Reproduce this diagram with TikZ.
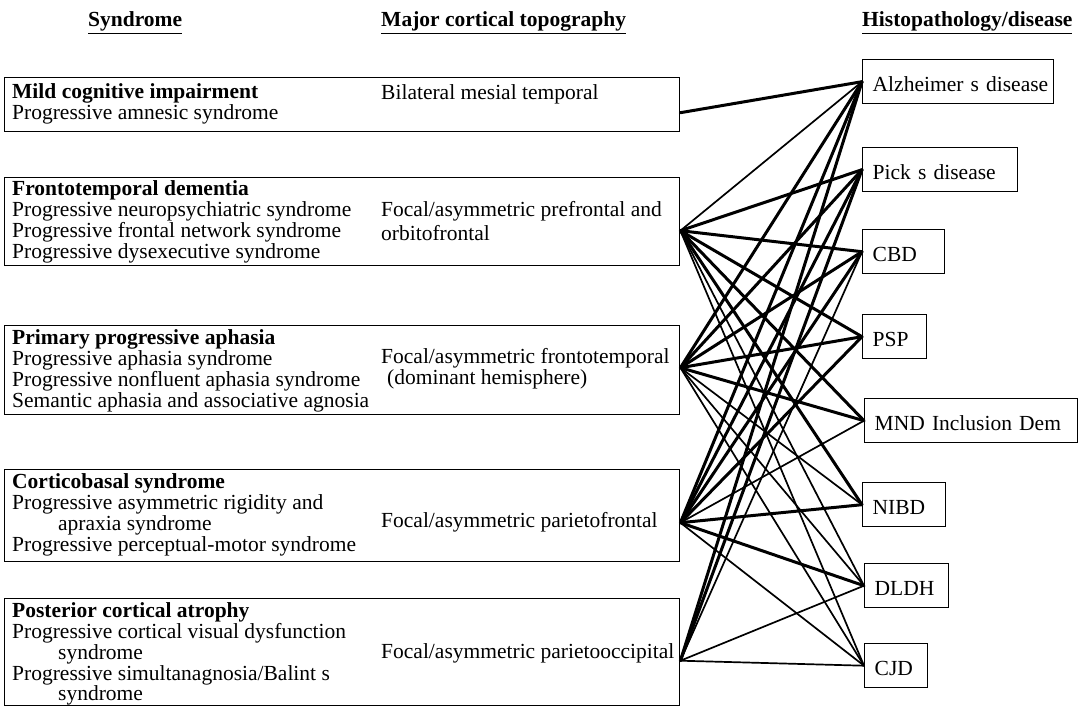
\documentclass[tikz,border=0pt]{standalone}
\usepackage{fontspec}
\setmainfont{Liberation Serif}
\begin{document}
\begin{tikzpicture}[x=1pt,y=-1pt,
  every node/.style={font=\fontsize{21.5}{21}\selectfont},
  txt/.style={anchor=base west, inner sep=0pt},
  lbox/.style={draw, line width=1.4pt, anchor=north west, minimum width=675pt, inner sep=0pt},
  rbox/.style={draw, line width=1.4pt, anchor=north west, minimum height=44pt,
    inner xsep=10pt, inner ysep=0pt, align=left, text height=20pt, text depth=0pt},
  heavy/.style={line width=3pt, line cap=round},
  light/.style={line width=1.7pt, line cap=round}]
\useasboundingbox (0,0) rectangle (1078,706);

% headers
\node[txt] (h1) at (88,27) {\textbf{\underline{Syndrome}}};
\node[txt] (h2) at (381,27) {\textbf{\underline{Major cortical topography}}};
\node[txt] (h3) at (862,27) {\textbf{\underline{Histopathology/disease}}};

% left boxes
\node[lbox, minimum height=54pt] (box1) at (4,77) {};
\node[lbox, minimum height=88pt] (box2) at (4,177) {};
\node[lbox, minimum height=89pt] (box3) at (4,325) {};
\node[lbox, minimum height=92pt] (box4) at (4,469) {};
\node[lbox, minimum height=107pt] (box5) at (4,598) {};

% box 1 text
\node[txt] (a1) at (12,99) {\textbf{Mild cognitive impairment}};
\node[txt] (a2) at (12,120) {Progressive amnesic syndrome};
\node[txt] (am) at (381,100) {Bilateral mesial temporal};

% box 2 text
\node[txt] (b1) at (12,195) {\textbf{Frontotemporal dementia}};
\node[txt] (b2) at (12,216) {Progressive neuropsychiatric syndrome};
\node[txt] (b3) at (12,237) {Progressive frontal network syndrome};
\node[txt] (b4) at (12,258) {Progressive dysexecutive syndrome};
\node[txt] (bm1) at (381,216) {Focal/asymmetric prefrontal and};
\node[txt] (bm2) at (381,240) {orbitofrontal};

% box 3 text
\node[txt] (c1) at (12,344) {\textbf{Primary progressive aphasia}};
\node[txt] (c2) at (12,365) {Progressive aphasia syndrome};
\node[txt] (c3) at (12,386) {Progressive nonfluent aphasia syndrome};
\node[txt] (c4) at (12,407) {Semantic aphasia and associative agnosia};
\node[txt] (cm1) at (381,363) {Focal/asymmetric frontotemporal};
\node[txt] (cm2) at (387,384) {(dominant hemisphere)};

% box 4 text
\node[txt] (d1) at (12,488) {\textbf{Corticobasal syndrome}};
\node[txt] (d2) at (12,509) {Progressive asymmetric rigidity and};
\node[txt] (d3) at (58,530) {apraxia syndrome};
\node[txt] (d4) at (12,551) {Progressive perceptual-motor syndrome};
\node[txt] (dm) at (381,527) {Focal/asymmetric parietofrontal};

% box 5 text
\node[txt] (e1) at (12,617) {\textbf{Posterior cortical atrophy}};
\node[txt] (e2) at (12,638) {Progressive cortical visual dysfunction};
\node[txt] (e3) at (58,659) {syndrome};
\node[txt] (e4) at (12,680) {Progressive simultanagnosia/Balint s};
\node[txt] (e5) at (58,700) {syndrome};
\node[txt] (em) at (381,658) {Focal/asymmetric parietooccipital};

% right boxes
\node[rbox, text width=171pt] (ad) at (862,59) {\mbox{Alzheimer s disease}};
\node[rbox, text width=135pt] (pick) at (862,147) {\mbox{Pick s disease}};
\node[rbox, text width=62pt] (cbd) at (862,229) {CBD};
\node[rbox, text width=44pt] (psp) at (862,314) {PSP};
\node[rbox, text width=193pt] (mnd) at (864,398) {\mbox{MND Inclusion Dem}};
\node[rbox, text width=63pt] (nibd) at (862,482) {NIBD};
\node[rbox, text width=64pt] (dldh) at (864,563) {DLDH};
\node[rbox, text width=43pt] (cjd) at (864,643) {CJD};

% source points
\coordinate (s1) at ([yshift=-8pt]box1.east);
\coordinate (s2) at ([yshift=-9pt]box2.east);
\coordinate (s3) at ([yshift=2.5pt]box3.east);
\coordinate (s4) at ([yshift=-7pt]box4.east);
\coordinate (s5) at ([yshift=-8.5pt]box5.east);

% connectors
\foreach \s/\t/\w in {
  s1/ad/heavy,
  s2/ad/light, s2/pick/heavy, s2/cbd/heavy, s2/psp/heavy, s2/mnd/heavy, s2/nibd/heavy, s2/dldh/light, s2/cjd/light,
  s3/ad/heavy, s3/pick/heavy, s3/cbd/heavy, s3/psp/heavy, s3/mnd/heavy, s3/nibd/light, s3/dldh/light, s3/cjd/light,
  s4/ad/heavy, s4/pick/heavy, s4/cbd/heavy, s4/psp/heavy, s4/mnd/light, s4/nibd/heavy, s4/dldh/heavy, s4/cjd/light,
  s5/ad/heavy, s5/pick/heavy, s5/cbd/light, s5/dldh/light, s5/cjd/light}
  \draw[\w] (\s) -- (\t.west);
\end{tikzpicture}
\end{document}
